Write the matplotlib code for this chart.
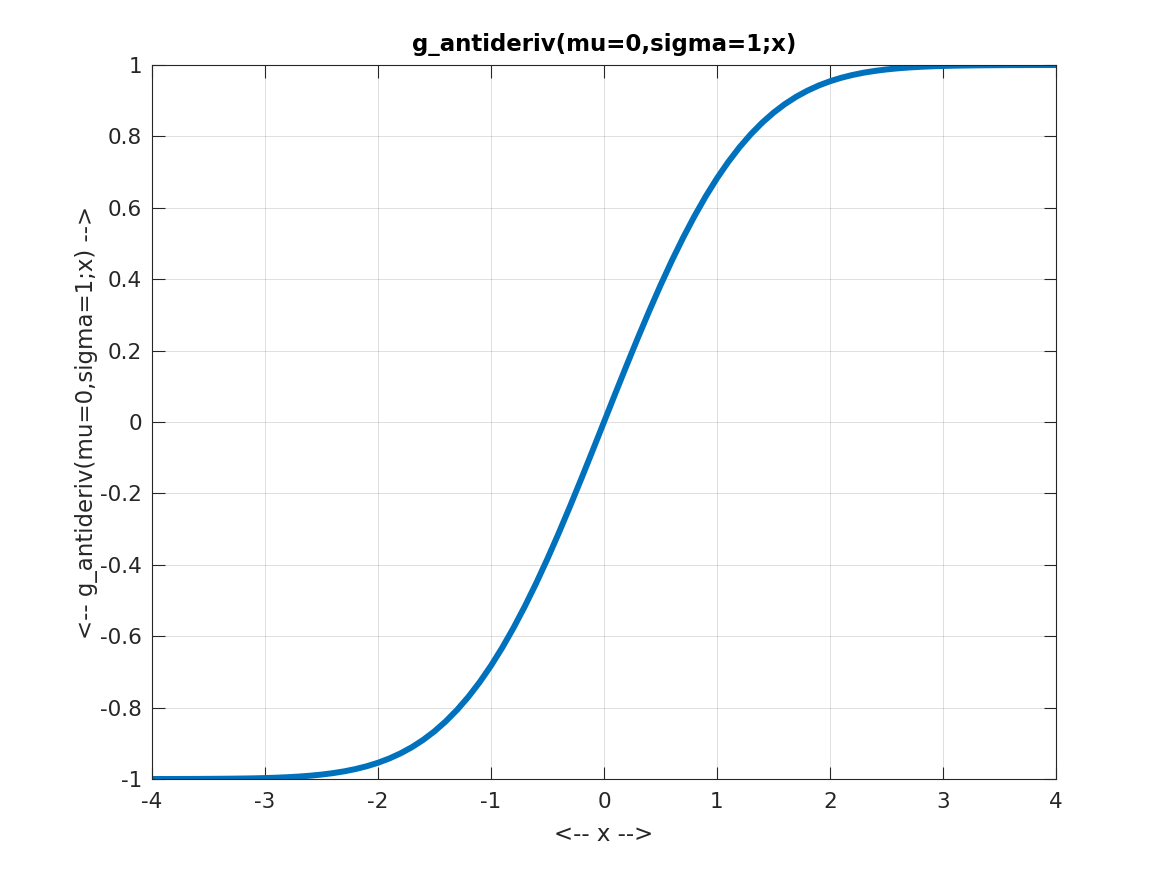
import matplotlib
matplotlib.use("Agg")
import matplotlib.pyplot as plt

# values, x step 0.1
x = [-4.0, -3.9, -3.8, -3.7, -3.6, -3.5, -3.4, -3.3, -3.2, -3.1,
     -3.0, -2.9, -2.8, -2.7, -2.6, -2.5, -2.4, -2.3, -2.2, -2.1,
     -2.0, -1.9, -1.8, -1.7, -1.6, -1.5, -1.4, -1.3, -1.2, -1.1,
     -1.0, -0.9, -0.8, -0.7, -0.6, -0.5, -0.4, -0.3, -0.2, -0.1,
     0.0,
     0.1, 0.2, 0.3, 0.4, 0.5, 0.6, 0.7, 0.8, 0.9, 1.0,
     1.1, 1.2, 1.3, 1.4, 1.5, 1.6, 1.7, 1.8, 1.9, 2.0,
     2.1, 2.2, 2.3, 2.4, 2.5, 2.6, 2.7, 2.8, 2.9, 3.0,
     3.1, 3.2, 3.3, 3.4, 3.5, 3.6, 3.7, 3.8, 3.9, 4.0]
y = [-0.9999, -0.9999, -0.9999, -0.9998, -0.9997, -0.9995, -0.9993, -0.9990, -0.9986, -0.9981,
     -0.9973, -0.9963, -0.9949, -0.9931, -0.9907, -0.9876, -0.9836, -0.9786, -0.9722, -0.9643,
     -0.9545, -0.9426, -0.9281, -0.9109, -0.8904, -0.8664, -0.8385, -0.8064, -0.7699, -0.7287,
     -0.6827, -0.6319, -0.5763, -0.5161, -0.4515, -0.3829, -0.3108, -0.2358, -0.1585, -0.0797,
     0.0,
     0.0797, 0.1585, 0.2358, 0.3108, 0.3829, 0.4515, 0.5161, 0.5763, 0.6319, 0.6827,
     0.7287, 0.7699, 0.8064, 0.8385, 0.8664, 0.8904, 0.9109, 0.9281, 0.9426, 0.9545,
     0.9643, 0.9722, 0.9786, 0.9836, 0.9876, 0.9907, 0.9931, 0.9949, 0.9963, 0.9973,
     0.9981, 0.9986, 0.9990, 0.9993, 0.9995, 0.9997, 0.9998, 0.9999, 0.9999, 0.9999]

xticks = [-4, -3, -2, -1, 0, 1, 2, 3, 4]
yticks = [-1, -0.8, -0.6, -0.4, -0.2, 0, 0.2, 0.4, 0.6, 0.8, 1]

fig = plt.figure(figsize=(11.67, 8.75), dpi=100)
ax = fig.add_axes([0.1302, 0.1097, 0.7747, 0.816])

ax.plot(x, y, color='#0072BD', linewidth=4.3, solid_capstyle='butt',
        solid_joinstyle='round')

ax.set_xlim(-4, 4)
ax.set_ylim(-1, 1)
ax.set_xticks(xticks)
ax.set_yticks(yticks)
ax.set_xticklabels([f'{t:g}' for t in xticks])
ax.set_yticklabels([f'{t:g}' for t in yticks])

ax.grid(True, color='#262626', alpha=0.15, linewidth=0.7)
ax.set_axisbelow(True)
ax.tick_params(direction='in', length=9, width=0.8, top=True, right=True,
               labelsize=15.5, colors='#262626')
ax.tick_params(axis='x', pad=9)
ax.tick_params(axis='y', pad=7)
for s in ax.spines.values():
    s.set_color('#262626')
    s.set_linewidth(0.8)

ax.set_title('g_antideriv(mu=0,sigma=1;x)', fontsize=16.5, fontweight='bold', pad=10)
ax.set_xlabel('<-- x -->', fontsize=16.5, color='#262626', labelpad=8)
ax.set_ylabel('<-- g_antideriv(mu=0,sigma=1;x) -->', fontsize=16.5, color='#262626',
              labelpad=2)

fig.savefig('out.png', dpi=100)
